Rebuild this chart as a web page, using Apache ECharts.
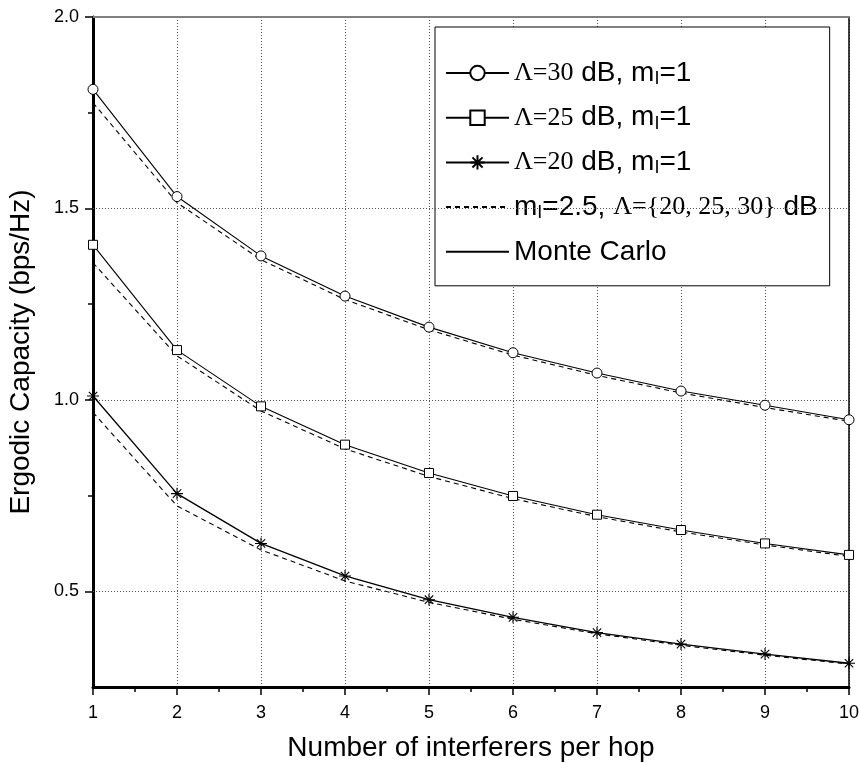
<!DOCTYPE html>
<html>
<head>
<meta charset="utf-8">
<script src="https://cdn.jsdelivr.net/npm/echarts@6/dist/echarts.min.js"></script>
<style>html,body{margin:0;padding:0;background:#fff}#c{width:859px;height:763px}</style>
</head>
<body>
<div id="c"></div>
<script>
// ---- data ----
const xs = [1, 2, 3, 4, 5, 6, 7, 8, 9, 10];
const mc30 = [1.811, 1.531, 1.376, 1.271, 1.190, 1.123, 1.070, 1.023, 0.986, 0.948];
const an30 = [1.776, 1.515, 1.366, 1.262, 1.183, 1.117, 1.064, 1.018, 0.980, 0.944];
const mc25 = [1.405, 1.130, 0.983, 0.883, 0.809, 0.749, 0.700, 0.660, 0.625, 0.595];
const an25 = [1.358, 1.115, 0.971, 0.872, 0.800, 0.742, 0.695, 0.655, 0.621, 0.591];
const mc20 = [1.010, 0.755, 0.625, 0.540, 0.478, 0.432, 0.392, 0.362, 0.336, 0.312];
const an20 = [0.967, 0.723, 0.608, 0.527, 0.471, 0.427, 0.389, 0.359, 0.333, 0.310];
const yMajor = [0.5, 1.0, 1.5, 2.0];
const yMinor = [0.75, 1.25, 1.75];
const xTitle = 'Number of interferers per hop';
const yTitle = 'Ergodic Capacity (bps/Hz)';
const names = ['L30', 'L25', 'L20', 'M25', 'MC'];
const legendText = {
  L30: '{t|Λ=30}{a| dB, m}{s|I}{a|=1}',
  L25: '{t|Λ=25}{a| dB, m}{s|I}{a|=1}',
  L20: '{t|Λ=20}{a| dB, m}{s|I}{a|=1}',
  M25: '{a|m}{s|I}{a|=2.5, }{t|Λ={20, 25, 30}}{a| dB}',
  MC: '{a|Monte Carlo}'
};

const pairs = arr => arr.map((v, i) => [xs[i], v]);
const star = 'path://M10,0L10,20M0,10L20,10M3,3L17,17M3,17L17,3';
const solid = {color: '#000', width: 1.1};
const dashed = {color: '#000', width: 1.1, type: [5, 4]};
const dotted = {color: '#555', width: 1, type: [1, 2]};
const noMark = {color: 'rgba(0,0,0,0)', borderWidth: 0, opacity: 0};

const chart = echarts.init(document.getElementById('c'), null, {renderer: 'canvas'});
chart.setOption({
  animation: false,
  backgroundColor: '#fff',
  grid: {left: 93, right: 10, top: 17, bottom: 76, containLabel: false, outerBoundsMode: 'none'},
  xAxis: [{
    type: 'value', min: 1, max: 10, interval: 1,
    name: xTitle, nameLocation: 'middle', nameGap: 47,
    nameTextStyle: {fontFamily: 'Liberation Sans', fontSize: 28, color: '#000'},
    axisLine: {show: true, onZero: false, lineStyle: {color: '#000', width: 3}},
    axisTick: {show: true, length: 8, lineStyle: {color: '#000', width: 1.5}},
    minorTick: {show: true, splitNumber: 2, length: 5, lineStyle: {color: '#000', width: 1.5}},
    axisLabel: {fontFamily: 'Liberation Sans', fontSize: 18, color: '#000', margin: 17},
    splitLine: {show: true, lineStyle: dotted}
  }, {
    type: 'value', min: 1, max: 10, position: 'top',
    axisLine: {show: true, onZero: false, lineStyle: {color: '#808080', width: 2}},
    axisTick: {show: false}, axisLabel: {show: false}, splitLine: {show: false}
  }],
  yAxis: [{
    type: 'value', min: 0.25, max: 2.0,
    name: yTitle, nameLocation: 'middle', nameGap: 58, nameRotate: 90,
    nameTextStyle: {fontFamily: 'Liberation Sans', fontSize: 28, color: '#000'},
    axisLine: {show: true, onZero: false, lineStyle: {color: '#000', width: 3}},
    axisTick: {show: true, length: 8, customValues: yMajor, lineStyle: {color: '#000', width: 1.5}},
    axisLabel: {customValues: yMajor, formatter: v => v.toFixed(1), fontFamily: 'Liberation Sans', fontSize: 18, color: '#000', margin: 14},
    splitLine: {show: false}
  }, {
    type: 'value', min: 0.25, max: 2.0, position: 'left',
    axisLine: {show: false},
    axisTick: {show: true, length: 5, customValues: yMinor, lineStyle: {color: '#000', width: 1.5}},
    axisLabel: {show: false}, splitLine: {show: false}
  }, {
    type: 'value', min: 0.25, max: 2.0, position: 'right',
    axisLine: {show: true, onZero: false, lineStyle: {color: '#000', width: 1.5}},
    axisTick: {show: false}, axisLabel: {show: false}, splitLine: {show: false}
  }],
  legend: {
    orient: 'vertical', left: 435, top: 27,
    data: names,
    itemWidth: 63, itemHeight: 18, itemGap: 14.7,
    padding: [31, 12, 19, 10],
    backgroundColor: '#fff', borderColor: '#000', borderWidth: 1,
    formatter: n => legendText[n],
    textStyle: {
      fontFamily: 'Liberation Serif', fontSize: 26, color: '#000', lineHeight: 30,
      rich: {
        a: {fontFamily: 'Liberation Sans', fontSize: 28, lineHeight: 30, color: '#000'},
        t: {fontFamily: 'Liberation Serif', fontSize: 26, lineHeight: 30, color: '#000'},
        s: {fontFamily: 'Liberation Sans', fontSize: 18, lineHeight: 6, verticalAlign: 'bottom', color: '#000'}
      }
    }
  },
  series: [
    {name: 'L30', type: 'line', data: pairs(mc30), lineStyle: solid, symbol: 'circle', symbolSize: 10,
     itemStyle: {color: '#fff', borderColor: '#000', borderWidth: 1}, z: 5,
     markLine: {silent: true, symbol: 'none', label: {show: false}, lineStyle: dotted,
       data: yMajor.slice(0, 3).map(v => ({yAxis: v}))}},
    {name: 'L25', type: 'line', data: pairs(mc25), lineStyle: solid, symbol: 'rect', symbolSize: 9,
     itemStyle: {color: '#fff', borderColor: '#000', borderWidth: 1}, z: 5},
    {name: 'L20', type: 'line', data: pairs(mc20), lineStyle: {color: '#000', width: 1.3}, symbol: star, symbolSize: 12,
     itemStyle: {color: 'rgba(0,0,0,0)', borderColor: '#000', borderWidth: 1.1}, z: 5},
    {name: 'M25', type: 'line', data: pairs(an30), lineStyle: dashed, symbol: 'none', itemStyle: noMark, z: 4},
    {name: 'M25', type: 'line', data: pairs(an25), lineStyle: dashed, symbol: 'none', itemStyle: noMark, z: 4},
    {name: 'M25', type: 'line', data: pairs(an20), lineStyle: dashed, symbol: 'none', itemStyle: noMark, z: 4},
    {name: 'MC', type: 'line', data: [], lineStyle: solid, symbol: 'none', itemStyle: noMark}
  ]
});
</script>
</body>
</html>
